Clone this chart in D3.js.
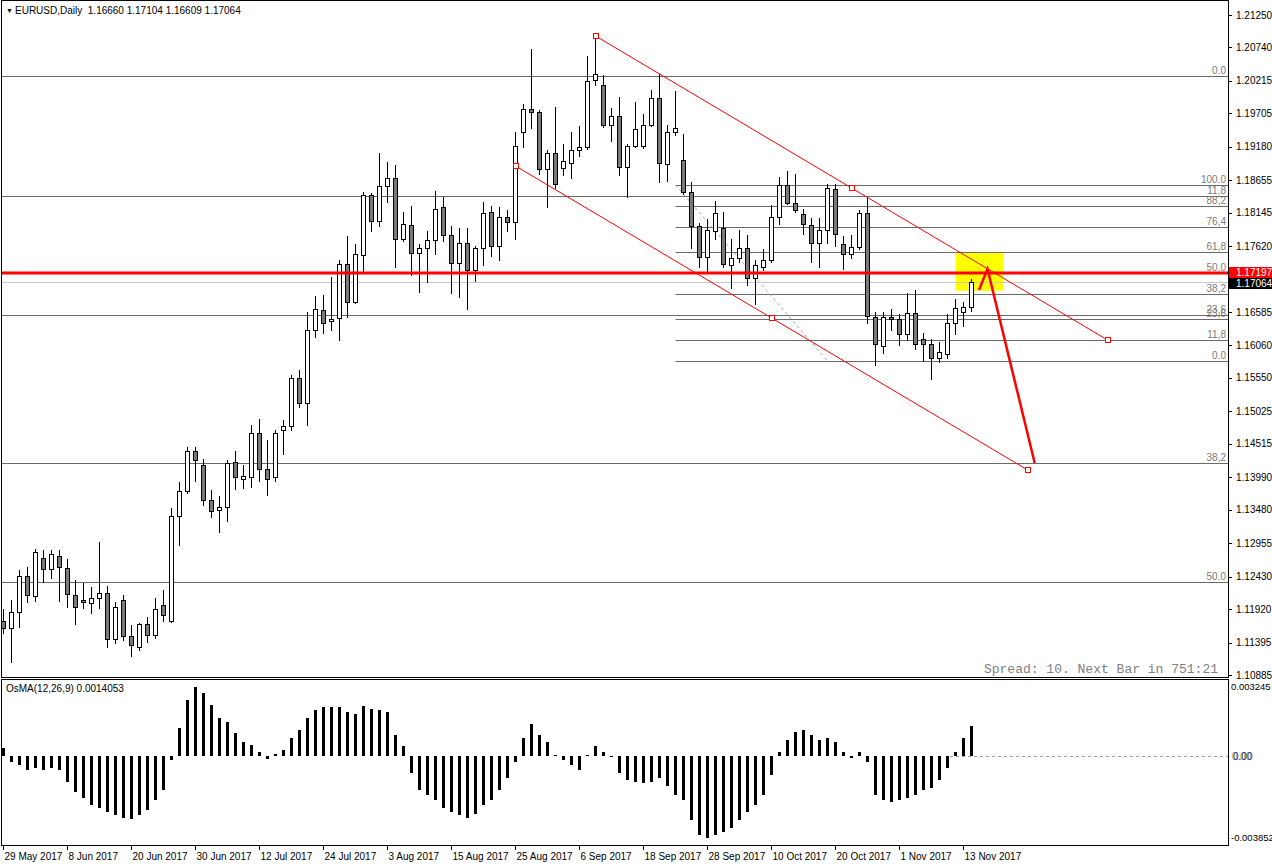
<!DOCTYPE html>
<html>
<head>
<meta charset="utf-8">
<script src="https://cdn.jsdelivr.net/npm/d3@7"></script>
<style>
  body { margin: 0; background: #fff; }
  svg { display: block; }
  text { font-family: "Liberation Sans", Arial, sans-serif; font-size: 10px; }
</style>
</head>
<body>
<svg id="chart" width="1272" height="867"></svg>
<script>
// EURUSD daily bars, 29 May 2017 .. 14 Nov 2017 (index 0 .. 121)
const opens = [
  1.1173, 1.1163, 1.1187, 1.1244, 1.1212, 1.1273, 1.1255, 1.1276, 1.1256, 1.1214,
  1.1207, 1.1201, 1.1210, 1.1218, 1.1145, 1.1207, 1.1149, 1.1133, 1.1168, 1.1152,
  1.1198, 1.1173, 1.1338, 1.1377, 1.1441, 1.1418, 1.1364, 1.1347, 1.1352, 1.1423,
  1.1397, 1.1399, 1.1468, 1.1412, 1.1399, 1.1474, 1.1479, 1.1555, 1.1515, 1.1631,
  1.1661, 1.1644, 1.1649, 1.1734, 1.1675, 1.1748, 1.1842, 1.1801, 1.1856, 1.1869,
  1.1773, 1.1795, 1.1751, 1.1759, 1.1771, 1.1823, 1.1779, 1.1735, 1.1767, 1.1724,
  1.1759, 1.1815, 1.1762, 1.1807, 1.1800, 1.1942, 1.1978, 1.1972, 1.1883, 1.1909,
  1.1884, 1.1892, 1.1913, 1.1917, 1.2023, 1.2015, 1.1952, 1.1966, 1.1886, 1.1919,
  1.1920, 1.1953, 1.1994, 1.1891, 1.1941, 1.1898, 1.1847, 1.1793, 1.1745, 1.1785,
  1.1790, 1.1732, 1.1744, 1.1759, 1.1712, 1.1729, 1.1740, 1.1807, 1.1858, 1.1829,
  1.1812, 1.1795, 1.1767, 1.1787, 1.1851, 1.1765, 1.1749, 1.1760, 1.1814, 1.1650,
  1.1605, 1.1650, 1.1647, 1.1624, 1.1657, 1.1616, 1.1609, 1.1586, 1.1593, 1.1641,
  1.1658, 1.16660
];
const highs = [
  1.1192, 1.1206, 1.1253, 1.1258, 1.1286, 1.1285, 1.1285, 1.1285, 1.1270, 1.1237,
  1.1233, 1.1226, 1.1297, 1.1229, 1.1203, 1.1214, 1.1167, 1.1170, 1.1179, 1.1210,
  1.1222, 1.1350, 1.1391, 1.1446, 1.1446, 1.1427, 1.1379, 1.1369, 1.1426, 1.1441,
  1.1419, 1.1481, 1.1490, 1.1457, 1.1473, 1.1489, 1.1560, 1.1568, 1.1658, 1.1683,
  1.1685, 1.1713, 1.1740, 1.1778, 1.1765, 1.1847, 1.1845, 1.1909, 1.1894, 1.1889,
  1.1815, 1.1825, 1.1765, 1.1785, 1.1848, 1.1839, 1.1793, 1.1790, 1.1790, 1.1762,
  1.1831, 1.1825, 1.1823, 1.1818, 1.1942, 1.1985, 1.2071, 1.1976, 1.1913, 1.1980,
  1.1922, 1.1941, 1.1950, 1.2060, 1.2093, 1.2030, 1.1979, 1.1996, 1.1922, 1.1988,
  1.1969, 1.2007, 1.2032, 1.1953, 1.2005, 1.1938, 1.1862, 1.1798, 1.1804, 1.1833,
  1.1815, 1.1774, 1.1788, 1.1779, 1.1740, 1.1757, 1.1826, 1.1870, 1.1880, 1.1875,
  1.1820, 1.1806, 1.1806, 1.1859, 1.1859, 1.1778, 1.1779, 1.1818, 1.1839, 1.1658,
  1.1658, 1.1663, 1.1655, 1.1688, 1.1693, 1.1625, 1.1616, 1.1611, 1.1655, 1.1679,
  1.1675, 1.17104
];
const lows = [
  1.1155, 1.1109, 1.1164, 1.1203, 1.1205, 1.1235, 1.1241, 1.1205, 1.1196, 1.1168,
  1.1193, 1.1186, 1.1194, 1.1133, 1.1139, 1.1143, 1.1119, 1.1128, 1.1140, 1.1146,
  1.1173, 1.1172, 1.1292, 1.1374, 1.1393, 1.1356, 1.1336, 1.1313, 1.1331, 1.1380,
  1.1382, 1.1383, 1.1393, 1.1371, 1.1393, 1.1435, 1.1473, 1.1510, 1.1481, 1.1620,
  1.1626, 1.1631, 1.1614, 1.1650, 1.1672, 1.1723, 1.1785, 1.1793, 1.1831, 1.1729,
  1.1770, 1.1716, 1.1690, 1.1705, 1.1749, 1.1770, 1.1688, 1.1682, 1.1663, 1.1708,
  1.1732, 1.1746, 1.1741, 1.1785, 1.1774, 1.1917, 1.1947, 1.1876, 1.1823, 1.1854,
  1.1873, 1.1869, 1.1903, 1.1914, 1.2015, 1.1949, 1.1927, 1.1873, 1.1839, 1.1917,
  1.1916, 1.1950, 1.1862, 1.1865, 1.1936, 1.1844, 1.1759, 1.1730, 1.1723, 1.1773,
  1.1730, 1.1697, 1.1737, 1.1701, 1.1671, 1.1724, 1.1737, 1.1796, 1.1828, 1.1816,
  1.1781, 1.1737, 1.1730, 1.1767, 1.1763, 1.1726, 1.1743, 1.1757, 1.1641, 1.1575,
  1.1594, 1.1630, 1.1606, 1.1614, 1.1600, 1.1581, 1.1554, 1.1580, 1.1586, 1.1624,
  1.1636, 1.16609
];
const closes = [
  1.1162, 1.1187, 1.1244, 1.1214, 1.1281, 1.1255, 1.1278, 1.1258, 1.1215, 1.1195,
  1.1203, 1.1210, 1.1218, 1.1145, 1.1196, 1.1149, 1.1135, 1.1168, 1.1152, 1.1192,
  1.1182, 1.1338, 1.1377, 1.1441, 1.1426, 1.1364, 1.1346, 1.1352, 1.1421, 1.1399,
  1.1401, 1.1468, 1.1412, 1.1397, 1.1468, 1.1479, 1.1555, 1.1515, 1.1630, 1.1663,
  1.1641, 1.1647, 1.1734, 1.1675, 1.1749, 1.1842, 1.1801, 1.1856, 1.1869, 1.1773,
  1.1796, 1.1752, 1.1759, 1.1771, 1.1820, 1.1779, 1.1735, 1.1767, 1.1724, 1.1759,
  1.1814, 1.1762, 1.1807, 1.1800, 1.1919, 1.1978, 1.1972, 1.1883, 1.1909, 1.1859,
  1.1895, 1.1913, 1.1917, 1.2021, 1.2033, 1.1953, 1.1966, 1.1886, 1.1919, 1.1946,
  1.1953, 1.1994, 1.1892, 1.1941, 1.1947, 1.1847, 1.1793, 1.1745, 1.1787, 1.1814,
  1.1734, 1.1744, 1.1759, 1.1712, 1.1732, 1.1740, 1.1807, 1.1858, 1.1829, 1.1818,
  1.1796, 1.1767, 1.1787, 1.1853, 1.1781, 1.1749, 1.1760, 1.1814, 1.1652, 1.1608,
  1.1650, 1.1647, 1.1624, 1.1657, 1.1608, 1.1609, 1.1586, 1.1595, 1.1642, 1.1665,
  1.1666, 1.17064
];

// OsMA(12,26,9) histogram, one value per bar
const osma = [
   0.00038, -0.00028, -0.00042, -0.00066, -0.00056, -0.00066, -0.00056, -0.00066, -0.00122, -0.00169,
  -0.00197, -0.00230, -0.00244, -0.00263, -0.00277, -0.00291, -0.00296, -0.00277, -0.00254, -0.00207,
  -0.00160, -0.00019,  0.00132,  0.00263,  0.003245, 0.00296,  0.00240,  0.00179,  0.00160,  0.00108,
   0.00066,  0.00052,  0.00019, -0.00014,  0.00009,  0.00028,  0.00085,  0.00122,  0.00179,  0.00216,
   0.00230,  0.00230,  0.00230,  0.00207,  0.00197,  0.00235,  0.00221,  0.00216,  0.00207,  0.00099,
   0.00047, -0.00080, -0.00160, -0.00183, -0.00207, -0.00244, -0.00263, -0.00277, -0.00291, -0.00273,
  -0.00230, -0.00207, -0.00160, -0.00103, -0.00028,  0.00085,  0.00150,  0.00099,  0.00066,  0.00005,
  -0.00019, -0.00042, -0.00066,  0.00005,  0.00047,  0.00019, -0.00005, -0.00080, -0.00113, -0.00122,
  -0.00127, -0.00122, -0.00103, -0.00141, -0.00183, -0.00207, -0.00301, -0.00371, -0.003852, -0.00371,
  -0.00357, -0.00339, -0.00301, -0.00263, -0.00230, -0.00183, -0.00089,  0.00019,  0.00075,  0.00113,
   0.00122,  0.00099,  0.00075,  0.00085,  0.00066,  0.00019, -0.00009,  0.00019, -0.00028, -0.00183,
  -0.00207, -0.00216, -0.00207, -0.00197, -0.00183, -0.00160, -0.00150, -0.00113, -0.00056,  0.00019,
   0.00085,  0.0014053
];

const priceTicks = [1.21250, 1.20740, 1.20215, 1.19705, 1.19180, 1.18655, 1.18145, 1.17620,
  1.16585, 1.16060, 1.15550, 1.15025, 1.14515, 1.13990, 1.13480, 1.12955, 1.12430,
  1.11920, 1.11395, 1.10885];
const osmaTicks = [0.003245, -0.003852];

const dateIdx = [0, 8, 16, 24, 32, 40, 48, 56, 64, 72, 80, 88, 96, 104, 112, 120];
const dateLabels = ['29 May 2017', '8 Jun 2017', '20 Jun 2017', '30 Jun 2017', '12 Jul 2017',
  '24 Jul 2017', '3 Aug 2017', '15 Aug 2017', '25 Aug 2017', '6 Sep 2017', '18 Sep 2017',
  '28 Sep 2017', '10 Oct 2017', '20 Oct 2017', '1 Nov 2017', '13 Nov 2017'];

// fibonacci objects
const fibBig = { p0: 1.2029, p100: 1.0440 };
const fibBigLevels = [0, 11.8, 23.6, 38.2, 50];
const fibBigLabels = ['0.0', '11,8', '23,6', '38,2', '50.0'];
const fibSmall = { i100: 84, p100: 1.18581, i0: 103, p0: 1.15816 };
const fibSmallLevels = [100, 88.2, 76.4, 61.8, 50, 38.2, 23.6, 11.8, 0];
const fibSmallLabels = ['100.0', '88,2', '76,4', '61,8', '50.0', '38,2', '23,6', '11,8', '0.0'];

// trend lines: [startIndex, startPrice, endIndex, endPrice]
const trendLines = [
  [74, 1.20921, 138, 1.16146],
  [64, 1.18879, 128, 1.14105]
];
const arrowPts = [[121.94, 1.16931], [123.0, 1.1726], [128.9, 1.14215]];
const hLinePrice = 1.17197;
const bidPrice = 1.17064;
const boxArea = { i1: 119, i2: 125, pTop: 1.1751, pBottom: 1.1692 };

const W = 1272, plotRight = 1228;
const mainBottom = 677, subTop = 679, subBottom = 845;

const svg = d3.select('#chart');

const x = d3.scaleLinear().domain([0, 1]).range([3.5, 11.5]);
const y = d3.scaleLinear().domain([1.10885, 1.21250]).range([675, 15]);
const yo = d3.scaleLinear().domain([-0.003852, 0.003245]).range([838, 687]);

const crisp = v => Math.round(v) + 0.5;
const idx = d3.range(opens.length);

const defs = svg.append('defs');
defs.append('clipPath').attr('id', 'clipMain')
  .append('rect').attr('x', 1).attr('y', 1).attr('width', plotRight - 1).attr('height', mainBottom - 1);
defs.append('clipPath').attr('id', 'clipSub')
  .append('rect').attr('x', 1).attr('y', subTop + 1).attr('width', plotRight - 1).attr('height', subBottom - subTop - 1);

const main = svg.append('g').attr('clip-path', 'url(#clipMain)');

// yellow box (background object)
main.append('rect')
  .attr('x', x(boxArea.i1)).attr('y', y(boxArea.pTop))
  .attr('width', x(boxArea.i2) - x(boxArea.i1))
  .attr('height', y(boxArea.pBottom) - y(boxArea.pTop))
  .attr('fill', '#ffff00');

// big fib levels across the whole chart
const fibBigY = fibBigLevels.map(l => y(fibBig.p0 - l / 100 * (fibBig.p0 - fibBig.p100)));
main.selectAll('line.fibBig').data(fibBigY).join('line')
  .attr('x1', 0).attr('x2', plotRight)
  .attr('y1', d => crisp(d)).attr('y2', d => crisp(d))
  .attr('stroke', '#6a6a6a');

// small fib from the first anchor to the right
const fibSmallY = fibSmallLevels.map(l => y(fibSmall.p0 + l / 100 * (fibSmall.p100 - fibSmall.p0)));
main.selectAll('line.fibSmall').data(fibSmallY).join('line')
  .attr('x1', x(fibSmall.i100)).attr('x2', plotRight)
  .attr('y1', d => crisp(d)).attr('y2', d => crisp(d))
  .attr('stroke', '#6a6a6a');
main.append('line')
  .attr('x1', x(fibSmall.i100)).attr('y1', y(fibSmall.p100))
  .attr('x2', x(fibSmall.i0)).attr('y2', y(fibSmall.p0))
  .attr('stroke', '#a8a8a8').attr('stroke-dasharray', '3,3');

// fib labels
const fibText = (ys, labels) => main.append('g').selectAll('text').data(ys).join('text')
  .attr('x', plotRight - 2).attr('y', d => Math.round(d) - 2)
  .attr('text-anchor', 'end').attr('fill', '#7a7a7a')
  .text((d, i) => labels[i]);
fibText(fibBigY, fibBigLabels);
fibText(fibSmallY, fibSmallLabels);

// bid line
main.append('line').attr('x1', 0).attr('x2', plotRight)
  .attr('y1', crisp(y(bidPrice))).attr('y2', crisp(y(bidPrice)))
  .attr('stroke', '#c8c8c8');

// candles
const candles = main.append('g');
candles.selectAll('line').data(idx).join('line')
  .attr('x1', i => x(i)).attr('x2', i => x(i))
  .attr('y1', i => Math.round(y(highs[i]))).attr('y2', i => Math.round(y(lows[i])) + 1)
  .attr('stroke', '#000');
candles.selectAll('rect').data(idx).join('rect')
  .attr('x', i => x(i) - 2)
  .attr('y', i => crisp(y(Math.max(opens[i], closes[i]))))
  .attr('width', 4)
  .attr('height', i => Math.max(0, Math.round(y(Math.min(opens[i], closes[i]))) - Math.round(y(Math.max(opens[i], closes[i])))))
  .attr('fill', i => closes[i] >= opens[i] ? '#fff' : '#7a7a7a')
  .attr('stroke', '#000');

// horizontal red level
main.append('line').attr('x1', 0).attr('x2', plotRight)
  .attr('y1', y(hLinePrice)).attr('y2', y(hLinePrice))
  .attr('stroke', '#ff0000').attr('stroke-width', 3);

// trend lines with selection markers
trendLines.forEach(t => {
  main.append('line')
    .attr('x1', x(t[0])).attr('y1', y(t[1]))
    .attr('x2', x(t[2])).attr('y2', y(t[3]))
    .attr('stroke', '#ff0000').attr('stroke-width', 1);
  const marks = [[t[0], t[1]], [(t[0] + t[2]) / 2, (t[1] + t[3]) / 2], [t[2], t[3]]];
  main.selectAll(null).data(marks).join('rect')
    .attr('x', d => Math.round(x(d[0])) - 2.5).attr('y', d => Math.round(y(d[1])) - 2.5)
    .attr('width', 5).attr('height', 5)
    .attr('fill', '#fff').attr('stroke', '#ff0000');
});

// red arrow
main.append('path')
  .attr('d', d3.line().x(d => x(d[0])).y(d => y(d[1]))(arrowPts))
  .attr('fill', 'none').attr('stroke', '#ff0000').attr('stroke-width', 2.5)
  .attr('stroke-linejoin', 'miter');

// info texts
main.append('text').attr('x', 6).attr('y', 13).text('▼').style('font-size', '7px');
main.append('text').attr('x', 15).attr('y', 14)
  .text('EURUSD,Daily  1.16660 1.17104 1.16609 1.17064').attr('xml:space', 'preserve');
main.append('text').attr('x', 1218).attr('y', 673).attr('text-anchor', 'end')
  .attr('fill', '#808080')
  .style('font-family', '"Liberation Mono", "Courier New", monospace').style('font-size', '13px')
  .text('Spread: 10. Next Bar in 751:21');

// OsMA subwindow
const sub = svg.append('g').attr('clip-path', 'url(#clipSub)');
sub.append('line').attr('x1', 950).attr('x2', plotRight)
  .attr('y1', crisp(yo(0))).attr('y2', crisp(yo(0)))
  .attr('stroke', '#a0a0a0').attr('stroke-dasharray', '3,3');
sub.selectAll('rect').data(idx).join('rect')
  .attr('x', i => x(i) - 1.5).attr('width', 3)
  .attr('y', i => Math.round(Math.min(yo(osma[i]), yo(0))))
  .attr('height', i => Math.max(1, Math.round(Math.abs(yo(osma[i]) - yo(0)))))
  .attr('fill', '#000');
sub.append('text').attr('x', 6).attr('y', subTop + 13).text('OsMA(12,26,9) 0.0014053');

// frames
svg.append('rect').attr('x', 1.5).attr('y', 0.5).attr('width', plotRight - 1).attr('height', mainBottom)
  .attr('fill', 'none').attr('stroke', '#000');
svg.append('rect').attr('x', 1.5).attr('y', subTop + 0.5).attr('width', plotRight - 1).attr('height', subBottom - subTop)
  .attr('fill', 'none').attr('stroke', '#000');

// price axis
const pAxis = svg.append('g');
pAxis.selectAll('line').data(priceTicks).join('line')
  .attr('x1', plotRight).attr('x2', plotRight + 4)
  .attr('y1', d => crisp(y(d))).attr('y2', d => crisp(y(d)))
  .attr('stroke', '#000');
pAxis.selectAll('text').data(priceTicks).join('text')
  .attr('x', plotRight + 8).attr('y', d => y(d)).attr('dy', '0.35em')
  .text(d => d.toFixed(5));

// price tags: red level on top, bid just below it
const tag = (p, top, fill) => {
  svg.append('rect').attr('x', plotRight + 1).attr('y', top)
    .attr('width', W - plotRight - 1).attr('height', 11).attr('fill', fill);
  svg.append('text').attr('x', plotRight + 8).attr('y', top + 9)
    .attr('fill', '#fff').text(p.toFixed(5));
};
const redTop = Math.round(y(hLinePrice)) - 6;
tag(hLinePrice, redTop, '#ff0000');
tag(bidPrice, redTop + 11, '#000');

// OsMA axis
svg.selectAll('text.osmaTick').data(osmaTicks).join('text')
  .attr('x', plotRight + 3).attr('y', d => yo(d)).attr('dy', '0.35em')
  .style('font-size', '9.5px')
  .text(d => d.toFixed(6));
svg.append('text').attr('x', plotRight + 4).attr('y', yo(0)).attr('dy', '0.35em')
  .attr('fill', '#d08000').text('0.00');
svg.append('text').attr('x', plotRight + 5).attr('y', yo(0)).attr('dy', '0.35em')
  .attr('fill', '#0030c0').text('0.00');

// time axis
const tAxis = svg.append('g');
tAxis.selectAll('line').data(dateIdx).join('line')
  .attr('x1', i => x(i)).attr('x2', i => x(i))
  .attr('y1', subBottom).attr('y2', subBottom + 5)
  .attr('stroke', '#000');
tAxis.selectAll('text').data(dateIdx).join('text')
  .attr('x', i => x(i) + 1).attr('y', subBottom + 15)
  .text((i, k) => dateLabels[k]);
</script>
</body>
</html>
